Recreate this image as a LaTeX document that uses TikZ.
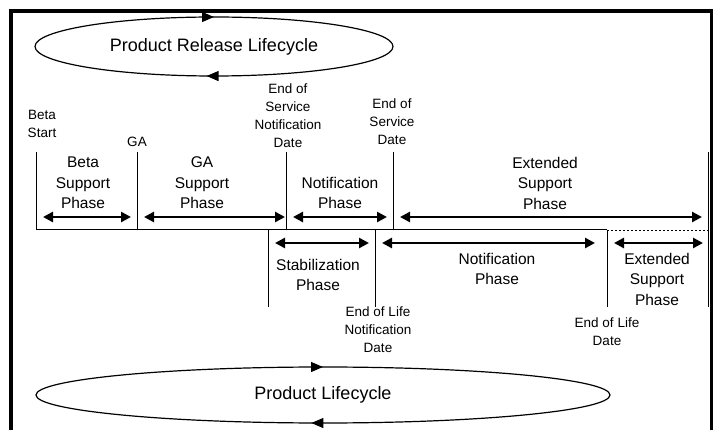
\documentclass[tikz,border=0pt]{standalone}
\usepackage{fontspec}
\setmainfont{Liberation Sans}
\usetikzlibrary{arrows.meta, shapes.geometric, decorations.markings}

\begin{document}
\begin{tikzpicture}[x=1pt, y=-1pt,
        cyclebox/.style={ellipse, draw, line width=1.2pt, inner sep=0pt,
            font=\fontsize{18}{22}\selectfont,
            postaction={decorate, decoration={markings,
                mark=at position 0.25 with {\arrowreversed{Triangle[length=12pt,width=10pt]}},
                mark=at position 0.74 with {\arrowreversed{Triangle[length=12pt,width=10pt]}}}}},
        tickline/.style={line width=1pt},
        phasearrow/.style={{Triangle[length=10pt,width=10pt]}-{Triangle[length=10pt,width=10pt]},
            line width=2.8pt, shorten <=7pt, shorten >=6pt},
        phaselabel/.style={align=center, inner sep=0pt, font=\fontsize{15.5}{20.5}\selectfont},
        datelabel/.style={align=center, inner sep=0pt, font=\fontsize{13.5}{18}\selectfont}]
    \useasboundingbox (0,0) rectangle (715,430);
    \draw[line width=3.2pt] (11,430) -- (11,11) -- (711.5,11) -- (711.5,430);

    \node[cyclebox, minimum width=358pt, minimum height=59pt] at (214,46.5) (release) {Product Release Lifecycle};
    \node[cyclebox, minimum width=574pt, minimum height=56pt] at (323,395) (product) {Product Lifecycle};

    % rows and dates
    \coordinate (toprow)    at (0,152);
    \coordinate (uprow)     at (0,217);
    \coordinate (lowrow)    at (0,243);
    \coordinate (botrow)    at (0,307);
    \coordinate (betastart) at (36,230);
    \coordinate (ga)        at (137,230);
    \coordinate (stab)      at (268,230);
    \coordinate (eosn)      at (286,230);
    \coordinate (eoln)      at (375,230);
    \coordinate (eos)       at (393,230);
    \coordinate (eol)       at (607,230);
    \coordinate (lineend)   at (708,230);

    \draw[tickline] (betastart) -- (eol);
    \draw[line width=0.8pt, dash pattern=on 2pt off 2pt] (eol) -- (lineend);
    \foreach \d in {betastart, ga, eosn, eos}
        \draw[tickline] (\d |- toprow) -- (\d);
    \foreach \d in {stab, eoln, eol}
        \draw[tickline] (\d) -- (\d |- botrow);
    \draw[tickline] (lineend |- toprow) -- (lineend |- botrow);

    \draw[phasearrow] (betastart |- uprow) -- (ga |- uprow);
    \draw[phasearrow, shorten >=1pt] (ga |- uprow) -- (eosn |- uprow);
    \draw[phasearrow] (eosn |- uprow) -- (eos |- uprow);
    \draw[phasearrow] (eos |- uprow) -- (lineend |- uprow);
    \draw[phasearrow] (stab |- lowrow) -- (eoln |- lowrow);
    \draw[phasearrow, shorten >=12pt] (eoln |- lowrow) -- (eol |- lowrow);
    \draw[phasearrow, shorten >=5pt] (eol |- lowrow) -- (lineend |- lowrow);

    \node[phaselabel] at (83,183)  (betaphase)  {Beta\\Support\\Phase};
    \node[phaselabel] at (202,183) (gaphase)    {GA\\Support\\Phase};
    \node[phaselabel] at (340,193) (eosnphase)  {Notification\\Phase};
    \node[phaselabel] at (545,183) (eosphase)   {Extended\\Support\\Phase};
    \node[phaselabel] at (318,275) (stabphase)  {Stabilization\\Phase};
    \node[phaselabel] at (497,269) (eolnphase)  {Notification\\Phase};
    \node[phaselabel] at (657,279) (eolphase)   {Extended\\Support\\Phase};

    \node[datelabel] at (42,123.5)  (betastartlabel) {Beta\\Start};
    \node[datelabel] at (137,142)   (galabel)        {GA};
    \node[datelabel] at (288,115.5) (eosnlabel)      {End of\\Service\\Notification\\Date};
    \node[datelabel] at (392,121.5) (eoslabel)       {End of\\Service\\Date};
    \node[datelabel] at (378,330)   (eolnlabel)      {End of Life\\Notification\\Date};
    \node[datelabel] at (607,332)   (eollabel)       {End of Life\\Date};
\end{tikzpicture}
\end{document}
